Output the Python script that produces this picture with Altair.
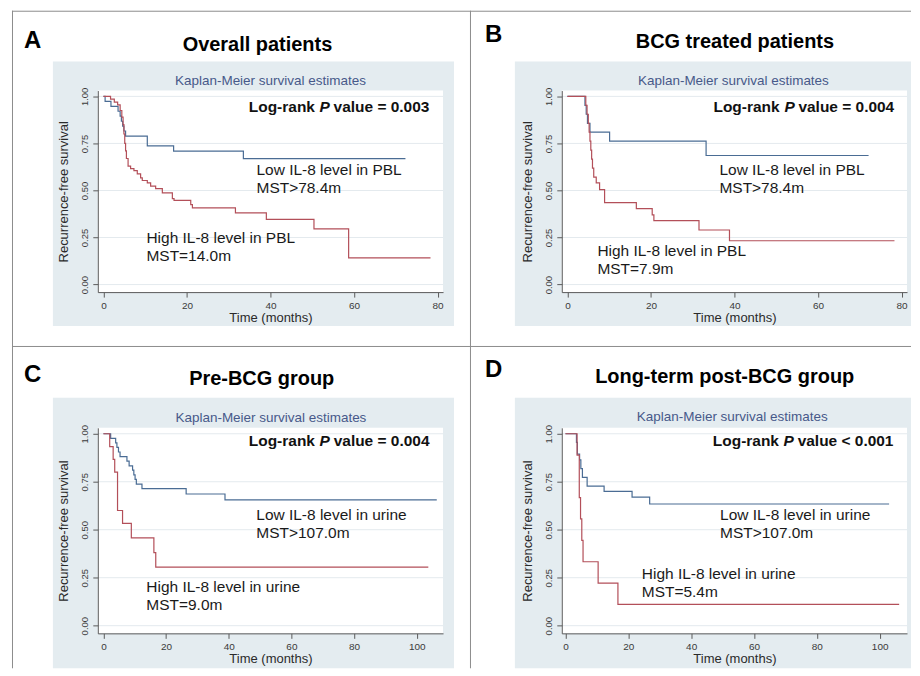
import altair as alt
import pandas as pd

FONT = "Liberation Sans"
BLUE = "#4a6c94"
RED = "#b34f59"
BOX = "#e4ecf0"
GRID = "#e4eaee"
FRAME = "#8c8c8c"
NAVY = "#47598a"

# ---------------- data ----------------
# Panel A: overall patients (PBL)
A_LOW_T = [0, 0.4, 1.8, 3.5, 4.0, 4.3, 4.6, 4.9, 5.3, 10.5, 16.8, 33.5, 72.3]
A_LOW_S = [1.0, 0.974, 0.947, 0.921, 0.895, 0.868, 0.842, 0.816, 0.789, 0.737, 0.709, 0.669, 0.669]
A_HIGH_T = [0, 1.7, 2.6, 3.4, 4.0, 4.4, 4.7, 4.9, 5.1, 5.3, 5.5, 5.9, 6.5, 7.3, 8.1, 8.9, 9.3, 10.5,
            11.3, 12.5, 14.1, 16.5, 16.9, 20.9, 21.3, 31.6, 39.0, 50.4, 58.7, 78.3]
A_HIGH_S = [1.0, 0.985, 0.970, 0.955, 0.925, 0.890, 0.850, 0.800, 0.750, 0.710, 0.670, 0.629, 0.616,
            0.606, 0.588, 0.567, 0.553, 0.540, 0.523, 0.510, 0.487, 0.457, 0.447, 0.425, 0.408, 0.381,
            0.346, 0.296, 0.142, 0.142]
# Panel B: BCG treated patients (PBL)
B_LOW_T = [0, 4.2, 4.5, 4.8, 5.4, 10.1, 33.2, 72.1]
B_LOW_S = [1.0, 0.952, 0.905, 0.857, 0.810, 0.762, 0.686, 0.686]
B_HIGH_T = [0, 4.4, 4.7, 5.0, 5.2, 5.4, 5.6, 5.8, 6.0, 6.3, 6.9, 7.7, 8.9, 16.5, 20.3, 20.7, 31.5, 38.8, 78.3]
B_HIGH_S = [1.0, 0.952, 0.905, 0.857, 0.810, 0.762, 0.714, 0.667, 0.619, 0.571, 0.540, 0.505, 0.435,
            0.404, 0.370, 0.340, 0.290, 0.233, 0.233]
# Panel C: pre-BCG group (urine)
C_LOW_T = [0, 2.3, 3.9, 4.3, 4.8, 5.3, 7.5, 8.2, 9.3, 9.7, 10.1, 10.5, 12.3, 26.4, 38.8, 106.4]
C_LOW_S = [1.0, 0.976, 0.952, 0.929, 0.905, 0.881, 0.857, 0.833, 0.810, 0.786, 0.762, 0.738, 0.714,
           0.686, 0.655, 0.655]
C_HIGH_T = [0, 2.0, 3.1, 3.6, 4.5, 6.1, 8.9, 16.1, 16.7, 103.7]
C_HIGH_S = [1.0, 0.933, 0.867, 0.800, 0.600, 0.533, 0.457, 0.381, 0.305, 0.305]
# Panel D: long-term post-BCG group (urine)
D_LOW_T = [0, 3.5, 3.8, 4.5, 4.9, 5.4, 6.9, 12.3, 21.2, 26.8, 103.0]
D_LOW_S = [1.0, 0.955, 0.894, 0.864, 0.818, 0.773, 0.727, 0.700, 0.670, 0.634, 0.634]
D_HIGH_T = [0, 3.7, 4.4, 4.8, 5.2, 5.6, 10.4, 16.7, 106.2]
D_HIGH_S = [1.0, 0.889, 0.667, 0.556, 0.444, 0.333, 0.222, 0.111, 0.111]

Y_TICKS = [0.0, 0.25, 0.50, 0.75, 1.0]
X_TICKS_80 = [0, 20, 40, 60, 80]
X_TICKS_100 = [0, 20, 40, 60, 80, 100]

LETTERS = ["A", "B", "C", "D"]
TITLES = ["Overall patients", "BCG treated patients", "Pre-BCG group", "Long-term post-BCG group"]
SUBTITLE = "Kaplan-Meier survival estimates"
P_TEXT = ["value = 0.003", "value = 0.004", "value = 0.004", "value < 0.001"]
LOW_LABELS = ["Low IL-8 level in PBL", "Low IL-8 level in PBL", "Low IL-8 level in urine", "Low IL-8 level in urine"]
LOW_MST = ["MST>78.4m", "MST>78.4m", "MST>107.0m", "MST>107.0m"]
HIGH_LABELS = ["High IL-8 level in PBL", "High IL-8 level in PBL", "High IL-8 level in urine", "High IL-8 level in urine"]
HIGH_MST = ["MST=14.0m", "MST=7.9m", "MST=9.0m", "MST=5.4m"]

Y_DOMAIN = [-0.04, 1.031]


def one():
    return pd.DataFrame({"k": [0]})


def ptext(txt, px, py, size, weight="normal", color="#111111", align="left"):
    return alt.Chart(one()).mark_text(
        text=txt, font=FONT, fontSize=size, fontWeight=weight, color=color,
        align=align, baseline="middle"
    ).encode(x=alt.value(px), y=alt.value(py))


def panel(i, lt, ls, ht, hs, xdom, xticks, w, h, box, letter_xy, title_xy, sub_xy,
          lr, low_pos, high_pos, frame=False):
    xenc = alt.X("t:Q", scale=alt.Scale(domain=xdom, nice=False, zero=False),
                 axis=alt.Axis(values=xticks, title="Time (months)", labelFontSize=10,
                               labelPadding=3, titlePadding=1, titleFontSize=13,
                               labelFlush=False, grid=False, zindex=1))
    yenc = alt.Y("s:Q", scale=alt.Scale(domain=Y_DOMAIN, nice=False, zero=False),
                 axis=alt.Axis(values=Y_TICKS, format=".2f", title="Recurrence-free survival",
                               labelAngle=270, labelAlign="center", labelBaseline="bottom",
                               labelFontSize=9.5, labelPadding=3, titlePadding=9,
                               titleFontSize=13, grid=False, zindex=1))

    layers = []
    bx0, by0, bx1, by1 = box
    layers.append(alt.Chart(one()).mark_rect(color=BOX).encode(
        x=alt.value(bx0), x2=alt.value(bx1), y=alt.value(by0), y2=alt.value(by1)))
    layers.append(alt.Chart(one()).mark_rect(color="white").encode(
        x=alt.value(0), x2=alt.value(w), y=alt.value(0), y2=alt.value(h)))
    layers.append(alt.Chart(pd.DataFrame({"s": Y_TICKS})).mark_rule(
        color=GRID, strokeWidth=1).encode(y=yenc))

    df = pd.DataFrame({
        "t": list(lt) + list(ht),
        "s": list(ls) + list(hs),
        "grp": ["Low"] * len(lt) + ["High"] * len(ht),
    })
    layers.append(alt.Chart(df).mark_line(interpolate="step-after", strokeWidth=1.2).encode(
        x=xenc, y=yenc,
        color=alt.Color("grp:N", scale=alt.Scale(domain=["Low", "High"], range=[BLUE, RED]),
                        legend=None)))

    def dtext(txt, t, s, size, weight="normal", style="normal", color="#1a1a1a"):
        d = pd.DataFrame({"t": [t], "s": [s], "txt": [txt]})
        return alt.Chart(d).mark_text(
            font=FONT, fontSize=size, fontWeight=weight, fontStyle=style, color=color,
            align="left", baseline="middle").encode(x=xenc, y=yenc, text="txt:N")

    lx0, lxp, lxv, ly = lr
    layers.append(dtext("Log-rank", lx0, ly, 15.5, "bold", color="#111111"))
    layers.append(dtext("P", lxp, ly, 15.5, "bold", "italic", color="#111111"))
    layers.append(dtext(P_TEXT[i], lxv, ly, 15.5, "bold", color="#111111"))
    layers.append(dtext(LOW_LABELS[i], low_pos[0], low_pos[1], 15.5))
    layers.append(dtext(LOW_MST[i], low_pos[0], low_pos[2], 15.5))
    layers.append(dtext(HIGH_LABELS[i], high_pos[0], high_pos[1], 15.5))
    layers.append(dtext(HIGH_MST[i], high_pos[0], high_pos[2], 15.5))

    layers.append(ptext(LETTERS[i], letter_xy[0], letter_xy[1], 24, "bold", "#000000"))
    layers.append(ptext(TITLES[i], title_xy[0], title_xy[1], 20, "bold", "#000000", "center"))
    layers.append(ptext(SUBTITLE, sub_xy[0], sub_xy[1], 13.5, "normal", NAVY, "center"))

    if frame:
        layers.append(alt.Chart(one()).mark_rule(color=FRAME, strokeWidth=1).encode(
            x=alt.value(-86), x2=alt.value(815), y=alt.value(-79.5)))
        layers.append(alt.Chart(one()).mark_rule(color=FRAME, strokeWidth=1).encode(
            x=alt.value(-85.5), y=alt.value(-80), y2=alt.value(579)))
        layers.append(alt.Chart(one()).mark_rule(color=FRAME, strokeWidth=1).encode(
            x=alt.value(373.5), y=alt.value(-80), y2=alt.value(579)))
        layers.append(alt.Chart(one()).mark_rule(color=FRAME, strokeWidth=1).encode(
            x=alt.value(-86), x2=alt.value(815), y=alt.value(256.5)))

    return alt.layer(*layers).properties(width=w, height=h)


pA = panel(0, A_LOW_T, A_LOW_S, A_HIGH_T, A_HIGH_S, [-1.35, 81.3], X_TICKS_80, 346, 202,
           (-45, -29, 357, 236), (-74, -50), (160, -46), (173, -10),
           (34.8, 51.75, 55.1, 0.946), (36.65, 0.609, 0.512), (10.3, 0.248, 0.151), frame=True)
pB = panel(1, B_LOW_T, B_LOW_S, B_HIGH_T, B_HIGH_S, [-1.35, 81.3], X_TICKS_80, 346, 202,
           (-47, -29, 350, 236), (-77, -55.5), (173.5, -48.3), (172, -10),
           (34.96, 52.0, 55.3, 0.946), (36.4, 0.611, 0.513), (7.18, 0.178, 0.081))
pC = panel(2, C_LOW_T, C_LOW_S, C_HIGH_T, C_HIGH_S, [-1.8, 108.4], X_TICKS_100, 346, 206,
           (-45, -30, 357, 241), (-74, -53), (164.3, -49), (173.5, -10.3),
           (46.4, 69.0, 73.5, 0.964), (48.8, 0.579, 0.484), (13.7, 0.201, 0.106))
pD = panel(3, D_LOW_T, D_LOW_S, D_HIGH_T, D_HIGH_S, [-1.17, 108.7], X_TICKS_100, 346, 206,
           (-47, -30, 350, 241), (-77, -58), (163.3, -50.5), (170.8, -11),
           (46.9, 69.4, 73.9, 0.964), (49.2, 0.579, 0.484), (24.3, 0.270, 0.175))

chart = alt.concat(pA, pB, pC, pD, columns=2, spacing={"row": 136, "column": 119},
                   bounds="flush").properties(
    padding={"left": 3, "top": 1, "right": 0, "bottom": 0}
).configure_view(stroke=None).configure_axis(
    domainColor="#5a5a5a", tickColor="#5a5a5a", tickSize=5,
    labelFont=FONT, titleFont=FONT, labelColor="#3a3a3a", titleColor="#2a2a2a",
    titleFontWeight="normal"
)

chart.save("out.html", embed_options={"renderer": "svg", "actions": False})
